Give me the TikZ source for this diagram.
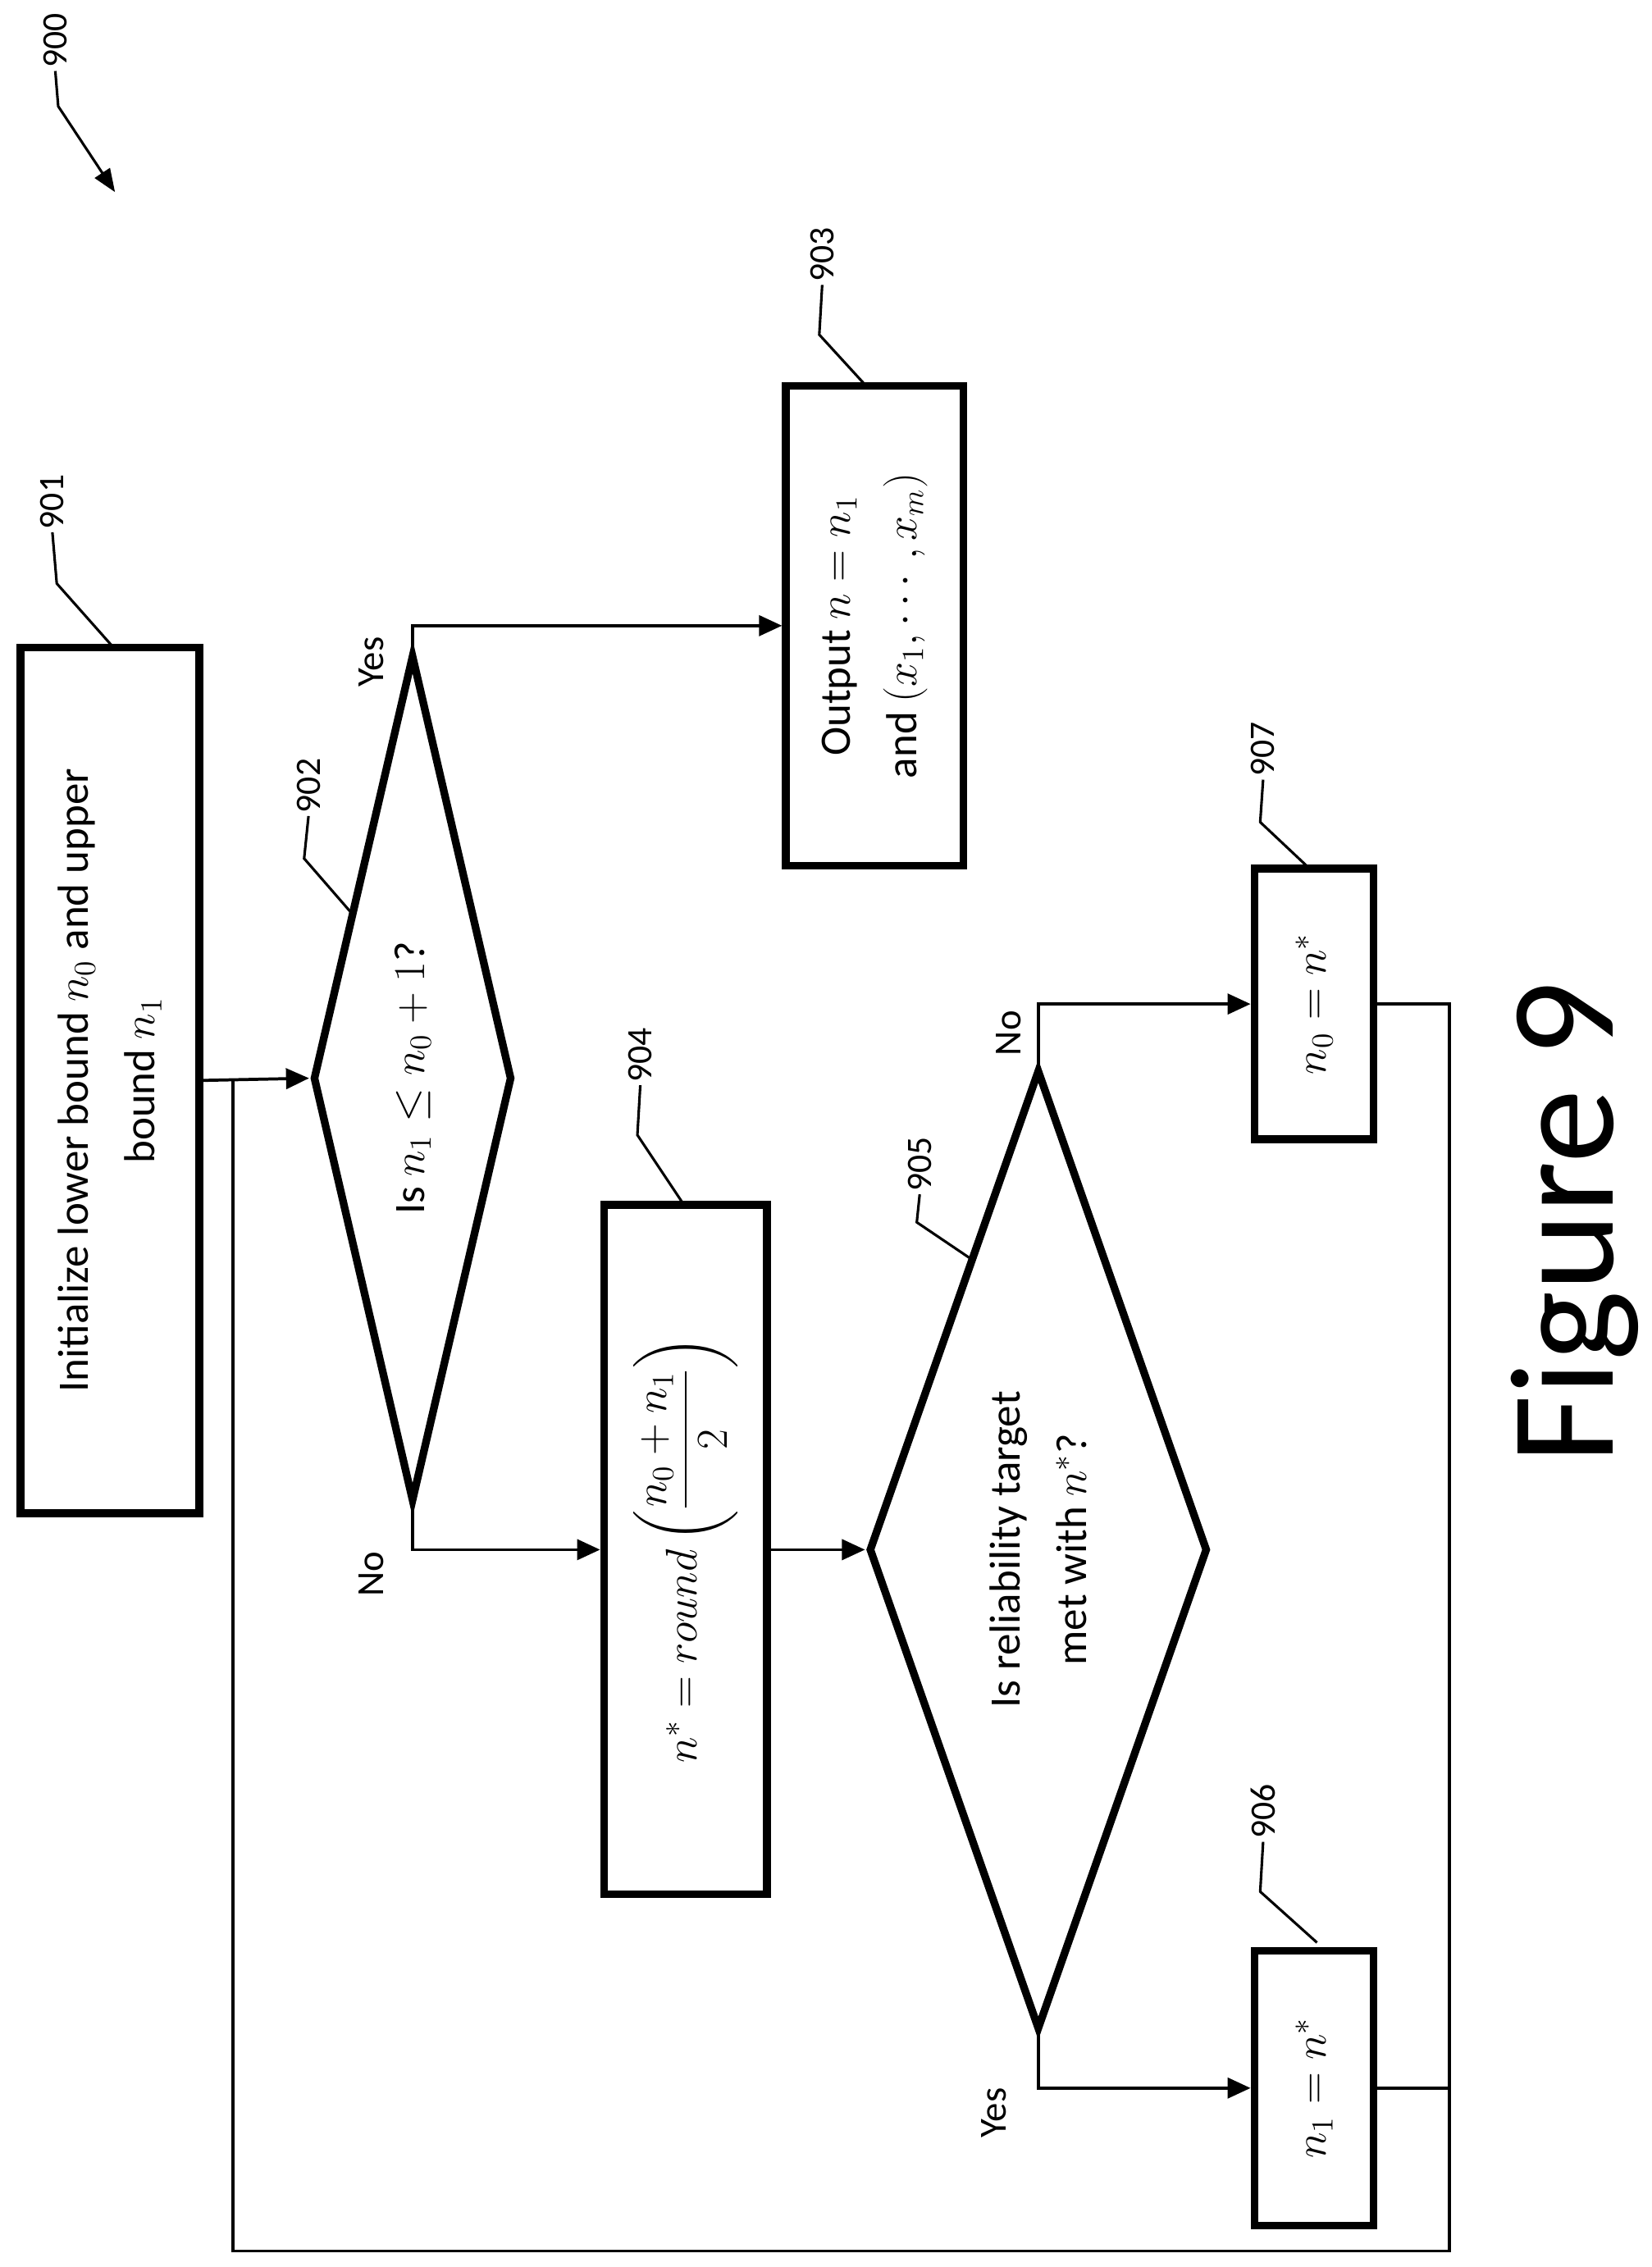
\documentclass[tikz,border=0pt]{standalone}
\usepackage{amsmath}
\usepackage{amssymb}
\usepackage{fontspec}
\setmainfont{Carlito}
\usetikzlibrary{shapes.geometric,arrows.meta}

\tikzset{
  box/.style={rectangle, draw, line width=3pt, rotate=90, align=center,
    inner sep=2pt, font=\fontsize{17}{26}\selectfont},
  dia/.style={diamond, draw, line width=3pt, rotate=90, align=center,
    inner sep=0pt, font=\fontsize{17}{26}\selectfont},
  flow/.style={line width=1.2pt, -{Triangle[length=9pt,width=8pt]}},
  line/.style={line width=1.2pt},
  yn/.style={rotate=90, font=\fontsize{15}{18}\selectfont},
  ref/.style={rotate=90, font=\fontsize{14}{16}\selectfont, inner sep=1pt},
  lead/.style={line width=1pt}
}

\begin{document}
\begin{tikzpicture}[x=0.02cm, y=-0.02cm]
    \useasboundingbox (0,0) rectangle (1135,1558);

    % Blocks
    \node[box, minimum width=11.9cm, minimum height=2.46cm] (b901) at (75.5,742.5)
        {Initialize lower bound $n_0$ and upper\\bound $n_1$};
    \node[dia, aspect=4.25, minimum width=11.64cm, minimum height=2.74cm] (d902) at (283.5,741)
        {Is $n_1 \le n_0 + 1$?};
    \node[box, minimum width=6.6cm, minimum height=2.44cm] (b903) at (601,430)
        {Output $n = n_1$\\and $(x_1, \cdots, x_m)$};
    \node[box, minimum width=9.48cm, minimum height=2.24cm] (b904) at (471,1065)
        {$n^* = round\left(\dfrac{n_0 + n_1}{2}\right)$};
    \node[dia, aspect=2.83, minimum width=13.2cm, minimum height=4.66cm] (d905) at (713.5,1065)
        {Is reliability target\\met with $n^*$?};
    \node[box, minimum width=3.72cm, minimum height=1.64cm] (b907) at (903,690)
        {$n_0 = n^*$};
    \node[box, minimum width=3.78cm, minimum height=1.64cm] (b906) at (903,1435)
        {$n_1 = n^*$};

    % Connectors
    \draw[flow] (b901.south) -- (d902.north);
    \draw[flow] (d902.east) |- (b903.north);
    \draw[flow] (d902.west) |- (b904.north);
    \draw[flow] (b904.south) -- (d905.north);
    \draw[flow] (d905.east) |- (b907.north);
    \draw[flow] (d905.west) |- (b906.north);

    % Loop back
    \coordinate (r1) at (996,690);
    \coordinate (r2) at (996,1547);
    \coordinate (r3) at (160,1547);
    \coordinate (r4) at (160,742.5);
    \draw[line] (b907.south) -- (r1) -- (r2) -- (r3) -- (r4);
    \draw[line] (b906.south) -- (b906.south -| r1);

    % Yes / No
    \node[yn] (y902) at (255,455) {Yes};
    \node[yn] (n902) at (255,1082) {No};
    \node[yn] (n905) at (693,710) {No};
    \node[yn] (y905) at (683,1452) {Yes};

    % Reference numerals
    \node[ref] (l900) at (38,28) {900};
    \coordinate (s900) at (40,73);
    \coordinate (t900) at (79,132);
    \draw[lead, -{Triangle[length=9pt,width=7pt]}] (l900.west) -- (s900) -- (t900);

    \node[ref] (l901) at (36,345) {901};
    \coordinate (s901) at (39,401);
    \coordinate (t901) at (78,445);
    \draw[lead] (l901.west) -- (s901) -- (t901);

    \node[ref] (l902) at (212,540) {902};
    \coordinate (s902) at (209,590);
    \coordinate (t902) at (242,628);
    \draw[lead] (l902.west) -- (s902) -- (t902);

    \node[ref] (l903) at (565,175) {903};
    \coordinate (s903) at (563,230);
    \coordinate (t903) at (595,265);
    \draw[lead] (l903.west) -- (s903) -- (t903);

    \node[ref] (l904) at (440,725) {904};
    \coordinate (s904) at (438,780);
    \coordinate (t904) at (470,828);
    \draw[lead] (l904.west) -- (s904) -- (t904);

    \node[ref] (l905) at (632,800) {905};
    \coordinate (s905) at (630,840);
    \coordinate (t905) at (667,865);
    \draw[lead] (l905.west) -- (s905) -- (t905);

    \node[ref] (l906) at (868,1245) {906};
    \coordinate (s906) at (866,1300);
    \coordinate (t906) at (905,1335);
    \draw[lead] (l906.west) -- (s906) -- (t906);

    \node[ref] (l907) at (868,515) {907};
    \coordinate (s907) at (866,565);
    \coordinate (t907) at (900,597);
    \draw[lead] (l907.west) -- (s907) -- (t907);

    % Caption
    \node[rotate=90, font=\fontsize{58}{60}\selectfont] (fig) at (1082,840) {Figure 9};
\end{tikzpicture}
\end{document}
